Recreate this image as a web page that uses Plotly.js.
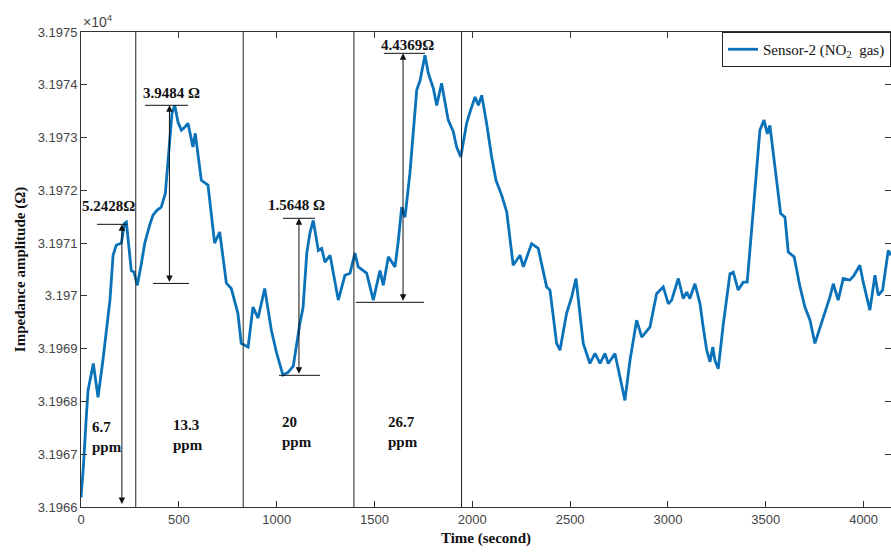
<!DOCTYPE html>
<html>
<head>
<meta charset="utf-8">
<script src="https://cdn.plot.ly/plotly-3.0.1.min.js"></script>
<style>html,body{margin:0;padding:0;background:#fff;}#chart{width:891px;height:556px;}</style>
</head>
<body>
<div id="chart"></div>
<script>
// Time (s)
const time = [0,12,26,36,63,87,112,148,164,180,206,223,232,257,271,288,307,326,351,368,388,410,431,448,465,479,496,513,526,547,572,584,598,615,649,683,709,743,768,802,819,854,879,905,939,973,999,1017,1032,1058,1085,1119,1135,1154,1170,1187,1213,1230,1247,1273,1315,1349,1375,1400,1417,1460,1494,1528,1545,1571,1605,1622,1639,1656,1681,1716,1733,1758,1775,1801,1818,1843,1877,1903,1920,1941,1971,1988,2014,2031,2048,2073,2099,2121,2150,2176,2209,2244,2261,2303,2337,2380,2397,2431,2448,2482,2508,2530,2567,2601,2627,2653,2678,2695,2729,2755,2780,2806,2840,2866,2908,2942,2976,3002,3019,3053,3078,3096,3112,3138,3164,3180,3198,3215,3229,3240,3257,3283,3317,3334,3359,3385,3405,3436,3470,3491,3508,3521,3547,3576,3598,3615,3645,3675,3700,3726,3751,3777,3802,3828,3845,3870,3896,3930,3951,3981,3998,4032,4058,4075,4097,4126,4140];
// Impedance amplitude (x10^4 ohm)
const impedance = [3.196618,3.196675,3.196764,3.196821,3.196872,3.196808,3.196878,3.196992,3.197077,3.197096,3.197100,3.197138,3.197140,3.197048,3.197045,3.197020,3.197058,3.197100,3.197134,3.197153,3.197162,3.197168,3.197194,3.197276,3.197346,3.197361,3.197329,3.197314,3.197318,3.197327,3.197282,3.197308,3.197266,3.197219,3.197210,3.197100,3.197121,3.197024,3.197014,3.196967,3.196910,3.196903,3.196979,3.196958,3.197014,3.196935,3.196893,3.196868,3.196850,3.196855,3.196867,3.196948,3.196978,3.197081,3.197119,3.197143,3.197086,3.197090,3.197064,3.197077,3.196992,3.197039,3.197043,3.197081,3.197055,3.197043,3.196992,3.197048,3.197020,3.197074,3.197055,3.197105,3.197168,3.197149,3.197232,3.197390,3.197408,3.197456,3.197422,3.197393,3.197361,3.197403,3.197333,3.197311,3.197282,3.197263,3.197327,3.197348,3.197377,3.197361,3.197380,3.197327,3.197263,3.197219,3.197191,3.197159,3.197058,3.197077,3.197055,3.197099,3.197090,3.197017,3.197011,3.196910,3.196897,3.196967,3.196998,3.197033,3.196910,3.196872,3.196891,3.196872,3.196891,3.196872,3.196891,3.196846,3.196802,3.196878,3.196954,3.196922,3.196941,3.197004,3.197017,3.196985,3.196992,3.197033,3.196995,3.197007,3.196995,3.197023,3.196985,3.196941,3.196897,3.196875,3.196903,3.196878,3.196862,3.196947,3.197042,3.197045,3.197011,3.197026,3.197026,3.197162,3.197314,3.197333,3.197307,3.197323,3.197244,3.197156,3.197149,3.197083,3.197074,3.197017,3.196979,3.196954,3.196910,3.196941,3.196966,3.196998,3.197023,3.196992,3.197033,3.197030,3.197039,3.197058,3.197026,3.196973,3.197039,3.197001,3.197011,3.197086,3.197077];

const xTickVals = [0,500,1000,1500,2000,2500,3000,3500,4000];
const yTickVals = [3.1966,3.1967,3.1968,3.1969,3.197,3.1971,3.1972,3.1973,3.1974,3.1975];
const yTickText = ['3.1966','3.1967','3.1968','3.1969','3.197','3.1971','3.1972','3.1973','3.1974','3.1975'];

// Gas exposure boundaries (s)
const boundaries = [280, 829, 1395, 1945];
// Concentration labels
const ppmLabels = ['6.7','13.3','20','26.7'];
const ppmX = [46, 460, 1017, 1559];
const ppmY = [3.196732, 3.196736, 3.1967415, 3.1967415];

// Response annotations
const respText = ['5.2428\u03a9','3.9484 \u03a9','1.5648 \u03a9','4.4369\u03a9'];
const respArrowX = [209, 452, 1114, 1646];
const respTop = [3.1971356, 3.1973611, 3.197147, 3.1974596];
const respBottom = [3.196603, 3.1970236, 3.1968495, 3.1969878];
const topBar = [[82,235],[327,547],[1032,1196],[1548,1758]];
const bottomBar = [null,[368,552],[1012,1221],[1405,1753]];
const labelX = [143, 465, 1100, 1671];
const labelY = [3.197171, 3.1973838, 3.197173, 3.1974763];

const serif = 'Liberation Serif, Times New Roman, serif';
const sans = 'Liberation Sans, Arial, sans-serif';

const shapes = [];
boundaries.forEach(b => shapes.push({type:'line', xref:'x', yref:'paper', x0:b, x1:b, y0:0, y1:1, line:{color:'#222', width:1}}));
topBar.forEach((bar, i) => shapes.push({type:'line', xref:'x', yref:'y', x0:bar[0], x1:bar[1], y0:respTop[i], y1:respTop[i], line:{color:'#111', width:1}}));
bottomBar.forEach((bar, i) => { if (bar) shapes.push({type:'line', xref:'x', yref:'y', x0:bar[0], x1:bar[1], y0:respBottom[i], y1:respBottom[i], line:{color:'#111', width:1}}); });

const annotations = [];
respText.forEach((t, i) => {
  annotations.push({x:respArrowX[i], y:respTop[i], ax:respArrowX[i], ay:respBottom[i], xref:'x', yref:'y', axref:'x', ayref:'y', text:'', showarrow:true, arrowhead:2, arrowside:'end+start', arrowsize:1.3, arrowwidth:1, arrowcolor:'#111'});
  annotations.push({x:labelX[i], y:labelY[i], xref:'x', yref:'y', text:'<b>'+t+'</b>', showarrow:false, font:{family:serif, size:15, color:'#111'}});
});
ppmLabels.forEach((p, i) => annotations.push({x:ppmX[i], y:ppmY[i], xref:'x', yref:'y', xanchor:'left', align:'left', text:'<b>'+p+'<br>ppm</b>', showarrow:false, font:{family:serif, size:15, color:'#111'}}));
annotations.push({x:0, y:1, xref:'paper', yref:'paper', xanchor:'left', yanchor:'bottom', yshift:0, text:'\u00d710<sup>4</sup>', showarrow:false, font:{family:sans, size:14, color:'#444'}});

const trace = {x:time, y:impedance, type:'scatter', mode:'lines', name:'Sensor-2 (NO<sub>2</sub>\u00a0 gas)', line:{color:'#0a72b8', width:2.8}};

const layout = {
  width:891, height:556,
  margin:{l:81, r:0, t:32, b:49},
  paper_bgcolor:'#fff', plot_bgcolor:'#fff',
  showlegend:true,
  legend:{x:1, y:1, xanchor:'right', yanchor:'top', bgcolor:'#fff', bordercolor:'#222', borderwidth:1, font:{family:serif, size:15, color:'#111'}, tracegroupgap:0},
  xaxis:{range:[0,4140], tickvals:xTickVals, ticks:'inside', ticklen:6, tickcolor:'#333', showline:true, linecolor:'#333', linewidth:1, mirror:'ticks', showgrid:false, zeroline:false, tickfont:{family:sans, size:13, color:'#444'}, title:{text:'<b>Time (second)</b>', font:{family:serif, size:15, color:'#111'}, standoff:6}},
  yaxis:{range:[3.1966,3.1975], tickvals:yTickVals, ticktext:yTickText, ticks:'inside', ticklen:6, tickcolor:'#333', showline:true, linecolor:'#333', linewidth:1, mirror:'ticks', showgrid:false, zeroline:false, tickfont:{family:sans, size:13, color:'#444'}, title:{text:'<b>Impedance amplitude (\u03a9)</b>', font:{family:serif, size:15, color:'#111'}, standoff:8}},
  shapes:shapes,
  annotations:annotations
};

Plotly.newPlot('chart', [trace], layout, {staticPlot:true, displayModeBar:false});
</script>
</body>
</html>
